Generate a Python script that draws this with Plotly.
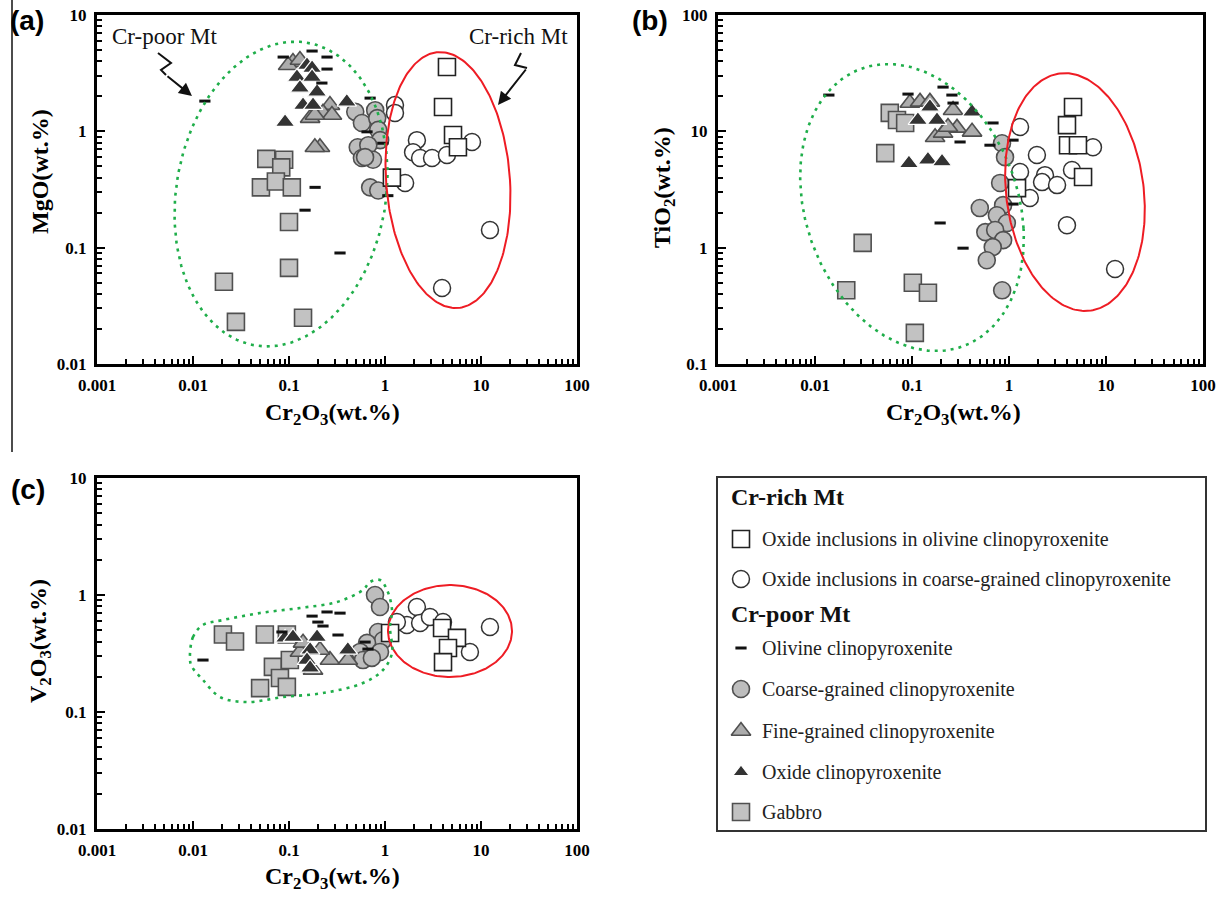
import numpy as np
import plotly.graph_objects as go

# ---------------- DATA ----------------
# Panel (a): Cr2O3 vs MgO
A_GABBRO_CR = [0.058, 0.089, 0.083, 0.051, 0.073, 0.107, 0.100, 0.100, 0.021, 0.028, 0.140]
A_GABBRO_MGO = [0.58, 0.57, 0.49, 0.33, 0.37, 0.33, 0.166, 0.067, 0.051, 0.023, 0.025]
A_COARSE_CR = [0.49, 0.575, 0.79, 0.83, 0.85, 0.89, 0.52, 0.67, 0.575, 0.75, 0.62, 0.70, 0.85]
A_COARSE_MGO = [1.47, 1.18, 1.52, 1.30, 1.03, 0.84, 0.73, 0.76, 0.59, 0.57, 0.60, 0.33, 0.31]
A_FINE_CR = [0.110, 0.098, 0.130, 0.267, 0.226, 0.280, 0.166, 0.186, 0.210, 0.186]
A_FINE_MGO = [3.94, 3.70, 4.10, 1.68, 1.44, 1.38, 1.30, 1.38, 0.73, 0.73]
A_OXIDE_CR = [0.154, 0.174, 0.121, 0.174, 0.130, 0.196, 0.140, 0.178, 0.091, 0.40]
A_OXIDE_MGO = [3.71, 3.50, 2.93, 2.93, 2.36, 2.18, 1.68, 1.68, 1.20, 1.79]
A_OLIV_CR = [0.0133, 0.087, 0.174, 0.249, 0.249, 0.22, 0.70, 0.65, 0.95, 0.187, 1.07, 0.147, 0.34]
A_OLIV_MGO = [1.82, 4.35, 4.90, 4.35, 3.43, 2.60, 1.93, 0.99, 0.79, 0.33, 0.28, 0.21, 0.09]
A_INCL_OL_CR = [4.42, 4.02, 5.11, 5.75, 1.18]
A_INCL_OL_MGO = [3.57, 1.62, 0.93, 0.73, 0.40]
A_INCL_CG_CR = [1.27, 1.27, 2.15, 1.96, 2.32, 3.09, 4.42, 8.06, 12.4, 3.93, 1.62]
A_INCL_CG_MGO = [1.68, 1.44, 0.84, 0.66, 0.59, 0.59, 0.625, 0.81, 0.142, 0.045, 0.36]

# Panel (b): Cr2O3 vs TiO2
B_GABBRO_CR = [0.059, 0.070, 0.085, 0.053, 0.031, 0.021, 0.102, 0.146, 0.107]
B_GABBRO_TIO2 = [14.4, 12.5, 11.8, 6.5, 1.1, 0.43, 0.50, 0.41, 0.185]
B_COARSE_CR = [0.847, 0.91, 0.81, 0.50, 0.87, 0.75, 0.95, 0.57, 0.72, 0.87, 0.68, 0.59, 0.85]
B_COARSE_TIO2 = [7.9, 6.0, 3.6, 2.19, 2.32, 1.9, 1.63, 1.36, 1.42, 1.16, 1.01, 0.78, 0.43]
B_FINE_CR = [0.095, 0.121, 0.153, 0.265, 0.291, 0.416, 0.173, 0.209, 0.235]
B_FINE_TIO2 = [17.5, 17.9, 17.9, 15.2, 10.7, 9.9, 8.9, 9.7, 10.9]
B_OXIDE_CR = [0.153, 0.115, 0.181, 0.416, 0.093, 0.146, 0.204]
B_OXIDE_TIO2 = [16.2, 12.5, 12.5, 14.7, 5.3, 5.7, 5.5]
B_OLIV_CR = [0.0139, 0.091, 0.209, 0.258, 0.265, 0.684, 0.637, 0.313, 1.1, 1.1, 0.195, 0.336]
B_OLIV_TIO2 = [20.5, 20.9, 24.0, 20.5, 17.5, 11.8, 7.6, 8.1, 8.4, 2.37, 1.63, 0.99]
B_INCL_OL_CR = [4.57, 3.96, 4.06, 5.14, 5.80, 1.21]
B_INCL_OL_TIO2 = [16.2, 11.3, 7.6, 7.6, 4.05, 3.25]
B_INCL_CG_CR = [1.30, 1.94, 1.30, 2.35, 2.19, 3.13, 4.46, 7.34, 1.64, 3.96, 12.4]
B_INCL_CG_TIO2 = [10.9, 6.25, 4.47, 4.2, 3.66, 3.45, 4.65, 7.3, 2.67, 1.56, 0.655]

# Panel (c): Cr2O3 vs V2O3
C_GABBRO_CR = [0.0205, 0.0274, 0.056, 0.095, 0.068, 0.0805, 0.050, 0.095, 0.102]
C_GABBRO_V2O3 = [0.46, 0.40, 0.46, 0.46, 0.243, 0.195, 0.16, 0.164, 0.278]
C_COARSE_CR = [0.787, 0.887, 0.846, 0.953, 0.65, 0.55, 0.59, 0.887, 0.73]
C_COARSE_V2O3 = [1.0, 0.79, 0.483, 0.41, 0.39, 0.326, 0.278, 0.326, 0.29]
C_FINE_CR = [0.13, 0.178, 0.267, 0.21, 0.14, 0.41]
C_FINE_V2O3 = [0.326, 0.229, 0.278, 0.339, 0.39, 0.278]
C_OXIDE_CR = [0.091, 0.110, 0.196, 0.166, 0.154, 0.166, 0.41]
C_OXIDE_V2O3 = [0.43, 0.437, 0.437, 0.339, 0.278, 0.238, 0.339]
C_OLIV_CR = [0.0127, 0.174, 0.249, 0.34, 0.20, 0.226, 0.324, 0.62, 0.665, 0.0845]
C_OLIV_V2O3 = [0.278, 0.66, 0.716, 0.70, 0.587, 0.543, 0.455, 0.396, 0.345, 0.483]
C_INCL_OL_CR = [1.13, 3.93, 5.62, 4.53, 4.02]
C_INCL_OL_V2O3 = [0.473, 0.522, 0.43, 0.352, 0.267]
C_INCL_CG_CR = [2.15, 1.69, 2.32, 2.94, 4.02, 12.4, 7.67, 1.33]
C_INCL_CG_V2O3 = [0.79, 0.555, 0.577, 0.649, 0.587, 0.532, 0.326, 0.587]

X_TICKS = [0.001, 0.01, 0.1, 1, 10, 100]
X_TICKTEXT = ["0.001", "0.01", "0.1", "1", "10", "100"]
Y_TICKS_A = [0.01, 0.1, 1, 10]
Y_TICKTEXT_A = ["0.01", "0.1", "1", "10"]
Y_TICKS_B = [0.1, 1, 10, 100]
Y_TICKTEXT_B = ["0.1", "1", "10", "100"]

LEGEND_GROUPS = ["Cr-rich Mt", "Cr-poor Mt"]
LEGEND_LABELS = {
    "incl_ol": "Oxide inclusions in olivine clinopyroxenite",
    "incl_cg": "Oxide inclusions in coarse-grained clinopyroxenite",
    "olivine": "Olivine clinopyroxenite",
    "coarse": "Coarse-grained clinopyroxenite",
    "fine": "Fine-grained clinopyroxenite",
    "oxide": "Oxide clinopyroxenite",
    "gabbro": "Gabbro",
}

# ---------------- STYLE / LAYOUT ----------------
W, H = 1224, 900


def PX(x):
    return x / W


def PY(y):
    return 1 - y / H


STY = {
    "gabbro": dict(symbol="square", size=17, color="#c2c2c2", line=dict(color="#505050", width=1.6)),
    "coarse": dict(symbol="circle", size=17, color="#bdbdbd", line=dict(color="#505050", width=1.6)),
    "fine": dict(symbol="triangle-up", size=17, color="#acacac", line=dict(color="#505050", width=1.6)),
    "oxide": dict(symbol="triangle-up", size=17, color="#333333", line=dict(color="#ffffff", width=1.2)),
    "olivine": dict(symbol="line-ew", size=8, color="#111111", line=dict(color="#111111", width=3)),
    "incl_cg": dict(symbol="circle", size=17, color="#ffffff", line=dict(color="#333333", width=1.5)),
    "incl_ol": dict(symbol="square", size=17, color="#ffffff", line=dict(color="#222222", width=1.6)),
}
ORDER = ["gabbro", "coarse", "fine", "oxide", "olivine", "incl_cg", "incl_ol"]

PANELS = {
    "a": dict(xa="x", ya="y", data={
        "gabbro": (A_GABBRO_CR, A_GABBRO_MGO), "coarse": (A_COARSE_CR, A_COARSE_MGO),
        "fine": (A_FINE_CR, A_FINE_MGO), "oxide": (A_OXIDE_CR, A_OXIDE_MGO),
        "olivine": (A_OLIV_CR, A_OLIV_MGO), "incl_cg": (A_INCL_CG_CR, A_INCL_CG_MGO),
        "incl_ol": (A_INCL_OL_CR, A_INCL_OL_MGO)}),
    "b": dict(xa="x2", ya="y2", data={
        "gabbro": (B_GABBRO_CR, B_GABBRO_TIO2), "coarse": (B_COARSE_CR, B_COARSE_TIO2),
        "fine": (B_FINE_CR, B_FINE_TIO2), "oxide": (B_OXIDE_CR, B_OXIDE_TIO2),
        "olivine": (B_OLIV_CR, B_OLIV_TIO2), "incl_cg": (B_INCL_CG_CR, B_INCL_CG_TIO2),
        "incl_ol": (B_INCL_OL_CR, B_INCL_OL_TIO2)}),
    "c": dict(xa="x3", ya="y3", data={
        "gabbro": (C_GABBRO_CR, C_GABBRO_V2O3), "coarse": (C_COARSE_CR, C_COARSE_V2O3),
        "fine": (C_FINE_CR, C_FINE_V2O3), "oxide": (C_OXIDE_CR, C_OXIDE_V2O3),
        "olivine": (C_OLIV_CR, C_OLIV_V2O3), "incl_cg": (C_INCL_CG_CR, C_INCL_CG_V2O3),
        "incl_ol": (C_INCL_OL_CR, C_INCL_OL_V2O3)}),
}

# frame pixel boxes (left, right, top, bottom)
FRAMES = {"a": (97, 577, 15, 364), "b": (718, 1203, 15, 364), "c": (97, 577, 478, 829)}

GREEN = "#1fae4a"
RED = "#ee1c24"
# outline regions in log10 units: (cx, cy, a, b, x-shift at top, y-shift at right)
ELLIPSES = {
    "a": [(-1.083, -0.539, 1.10, 1.31, 0.146, 0.0, GREEN), (0.656, -0.419, 0.646, 1.10, -0.08, 0.0, RED)],
    "b": [(-1.0, 0.345, 1.15, 1.22, -0.08, -0.18, GREEN), (0.68, 0.478, 0.72, 1.015, -0.02, -0.12, RED)],
    "c": [(0.677, -0.308, 0.646, 0.393, 0.0, 0.0, RED)],
}
C_GREEN_OUTLINE = [(-2.031, -0.556), (-2.0, -0.359), (-1.896, -0.256), (-1.6875, -0.214), (-1.302, -0.154),
                   (-0.885, -0.111), (-0.5, -0.06), (-0.229, 0.043), (-0.156, 0.111), (-0.052, 0.128),
                   (0.021, 0.043), (0.073, -0.128), (0.052, -0.274), (0.073, -0.496), (-0.021, -0.641),
                   (-0.229, -0.752), (-0.646, -0.838), (-1.0625, -0.872), (-1.4375, -0.915), (-1.719, -0.872),
                   (-1.896, -0.726), (-2.01, -0.615), (-2.031, -0.556)]

fig = go.Figure()

for key in ["a", "b", "c"]:
    p = PANELS[key]
    for g in ORDER:
        xs, ys = p["data"][g]
        fig.add_trace(go.Scatter(x=xs, y=ys, mode="markers", marker=STY[g], xaxis=p["xa"], yaxis=p["ya"],
                                 showlegend=False, hoverinfo="x+y", cliponaxis=True))
    t = np.linspace(0, 2 * np.pi, 240)
    for (cx, cy, a, b, sx, sy, col) in ELLIPSES[key]:
        lx = cx + a * np.cos(t) + sx * np.sin(t)
        ly = cy + b * np.sin(t) + sy * np.cos(t)
        dash = "solid" if col == RED else "3px,5px"
        w = 2 if col == RED else 2.6
        fig.add_trace(go.Scatter(x=10 ** lx, y=10 ** ly, mode="lines", line=dict(color=col, width=w, dash=dash),
                                 xaxis=p["xa"], yaxis=p["ya"], showlegend=False, hoverinfo="skip"))
    if key == "c":
        ox = [10 ** v[0] for v in C_GREEN_OUTLINE]
        oy = [10 ** v[1] for v in C_GREEN_OUTLINE]
        fig.add_trace(go.Scatter(x=ox, y=oy, mode="lines", line=dict(color=GREEN, width=2.6, dash="3px,5px",
                                                                    shape="spline", smoothing=1.0),
                                 xaxis=p["xa"], yaxis=p["ya"], showlegend=False, hoverinfo="skip"))


def minor_vals(lo, hi):
    return [m * 10.0 ** k for k in range(lo, hi) for m in range(2, 10)]


TICKFONT = dict(family="Liberation Serif", size=17, color="black")


def bold(lst):
    return ["<b>" + s + "</b>" for s in lst]


def axis(domain, rng, tv, tt, mv, anchor):
    return dict(type="log", domain=domain, range=rng, anchor=anchor, showgrid=False, zeroline=False,
                showline=True, linecolor="black", linewidth=3, mirror=True,
                ticks="inside", ticklen=8, tickwidth=2, tickcolor="black",
                tickmode="array", tickvals=tv, ticktext=bold(tt), tickfont=TICKFONT,
                minor=dict(ticks="inside", ticklen=5, tickwidth=2, tickcolor="black", tickvals=mv, showgrid=False),
                automargin=False, fixedrange=True, ticklabelstandoff=4)


def dom(fr):
    l, r, t, b = fr
    return [PX(l), PX(r)], [PY(b), PY(t)]


xa, ya = dom(FRAMES["a"])
xb, yb = dom(FRAMES["b"])
xc, yc = dom(FRAMES["c"])

layout = dict(
    width=W, height=H, margin=dict(l=0, r=0, t=0, b=0), autosize=False,
    paper_bgcolor="white", plot_bgcolor="white", showlegend=False,
    xaxis=axis(xa, [-3, 2], X_TICKS, X_TICKTEXT, minor_vals(-3, 2), "y"),
    yaxis=axis(ya, [-2, 1], Y_TICKS_A, Y_TICKTEXT_A, minor_vals(-2, 1), "x"),
    xaxis2=axis(xb, [-3, 2], X_TICKS, X_TICKTEXT, minor_vals(-3, 2), "y2"),
    yaxis2=axis(yb, [-1, 2], Y_TICKS_B, Y_TICKTEXT_B, minor_vals(-1, 2), "x2"),
    xaxis3=axis(xc, [-3, 2], X_TICKS, X_TICKTEXT, minor_vals(-3, 2), "y3"),
    yaxis3=axis(yc, [-2, 1], Y_TICKS_A, Y_TICKTEXT_A, minor_vals(-2, 1), "x3"),
)

# legend box as an extra pixel-like axis pair
LEG_BOX = (718, 1205, 478, 830)
lx0, lx1, ly0, ly1 = LEG_BOX
layout["xaxis4"] = dict(domain=[PX(lx0), PX(lx1)], range=[lx0, lx1], anchor="y4", showgrid=False, zeroline=False,
                        showline=True, mirror=True, linecolor="#333333", linewidth=2, showticklabels=False,
                        ticks="", fixedrange=True, automargin=False)
layout["yaxis4"] = dict(domain=[PY(ly1), PY(ly0)], range=[ly1, ly0], anchor="x4", showgrid=False, zeroline=False,
                        showline=True, mirror=True, linecolor="#333333", linewidth=2, showticklabels=False,
                        ticks="", fixedrange=True, automargin=False)
fig.update_layout(**layout)

annotations = []
LEG_ROWS = [("h", LEGEND_GROUPS[0], 497), ("incl_ol", None, 539), ("incl_cg", None, 579),
            ("h", LEGEND_GROUPS[1], 614), ("olivine", None, 648), ("coarse", None, 689),
            ("fine", None, 731), ("oxide", None, 772), ("gabbro", None, 812)]
for kind, txt, yy in LEG_ROWS:
    if kind == "h":
        annotations.append(dict(x=729, y=yy, xref="x4", yref="y4", text=txt, showarrow=False, xanchor="left",
                                yanchor="middle", font=dict(family="Liberation Serif", size=24, color="#111",
                                                            weight="bold")))
    else:
        sty = dict(STY[kind])
        if kind == "oxide":
            sty["size"] = 14
        fig.add_trace(go.Scatter(x=[741], y=[yy], mode="markers", marker=sty, xaxis="x4", yaxis="y4",
                                 showlegend=False, hoverinfo="skip"))
        annotations.append(dict(x=760, y=yy, xref="x4", yref="y4", text=LEGEND_LABELS[kind], showarrow=False,
                                xanchor="left", yanchor="middle",
                                font=dict(family="Liberation Serif", size=20, color="#222")))

TITLE_FONT = dict(family="Liberation Serif", size=24, color="black", weight="bold")
XT = "Cr<sub>2</sub>O<sub>3</sub>(wt.%)"
for (x, y, txt, ang) in [(332, 414, XT, 0), (953, 414, XT, 0), (332, 878, XT, 0),
                         (40, 172, "MgO(wt.%)", -90), (664, 188, "TiO<sub>2</sub>(wt.%)", -90),
                         (40, 641, "V<sub>2</sub>O<sub>3</sub>(wt.%)", -90)]:
    annotations.append(dict(x=PX(x), y=PY(y), xref="paper", yref="paper", text=txt, showarrow=False,
                            xanchor="center", yanchor="middle", textangle=ang, font=TITLE_FONT))

for (x, y, txt) in [(27, 20, "(a)"), (650, 21, "(b)"), (28, 489, "(c)")]:
    annotations.append(dict(x=PX(x), y=PY(y), xref="paper", yref="paper", text=txt, showarrow=False,
                            xanchor="center", yanchor="middle",
                            font=dict(family="Liberation Sans", size=28, color="black", weight="bold")))

for (x, y, txt) in [(165, 37, "Cr-poor Mt"), (518, 37, "Cr-rich Mt")]:
    annotations.append(dict(x=PX(x), y=PY(y), xref="paper", yref="paper", text=txt, showarrow=False,
                            xanchor="center", yanchor="middle",
                            font=dict(family="Liberation Serif", size=23, color="#111")))

# zig-zag arrows
ZIGS = [([(158, 53), (171, 63), (161, 70), (166, 75)], (192, 96)),
        ([(521, 53), (515, 65), (527, 68)], (498, 105))]
shapes = []
for pts, tip in ZIGS:
    path = "M " + " L ".join(f"{PX(a):.5f},{PY(b):.5f}" for a, b in pts)
    shapes.append(dict(type="path", path=path, xref="paper", yref="paper", line=dict(color="#111", width=2)))
    tx, ty = pts[-1]
    annotations.append(dict(x=PX(tip[0]), y=PY(tip[1]), xref="paper", yref="paper", text="", showarrow=True,
                            ax=tx - tip[0], ay=ty - tip[1], axref="pixel", ayref="pixel",
                            arrowhead=2, arrowsize=1.3, arrowwidth=2, arrowcolor="#111"))

shapes.append(dict(type="line", xref="paper", yref="paper", x0=PX(12), x1=PX(12), y0=PY(0), y1=PY(452),
                   line=dict(color="#111", width=1.5)))

fig.update_layout(annotations=annotations, shapes=shapes)
fig.write_html("out.html")
